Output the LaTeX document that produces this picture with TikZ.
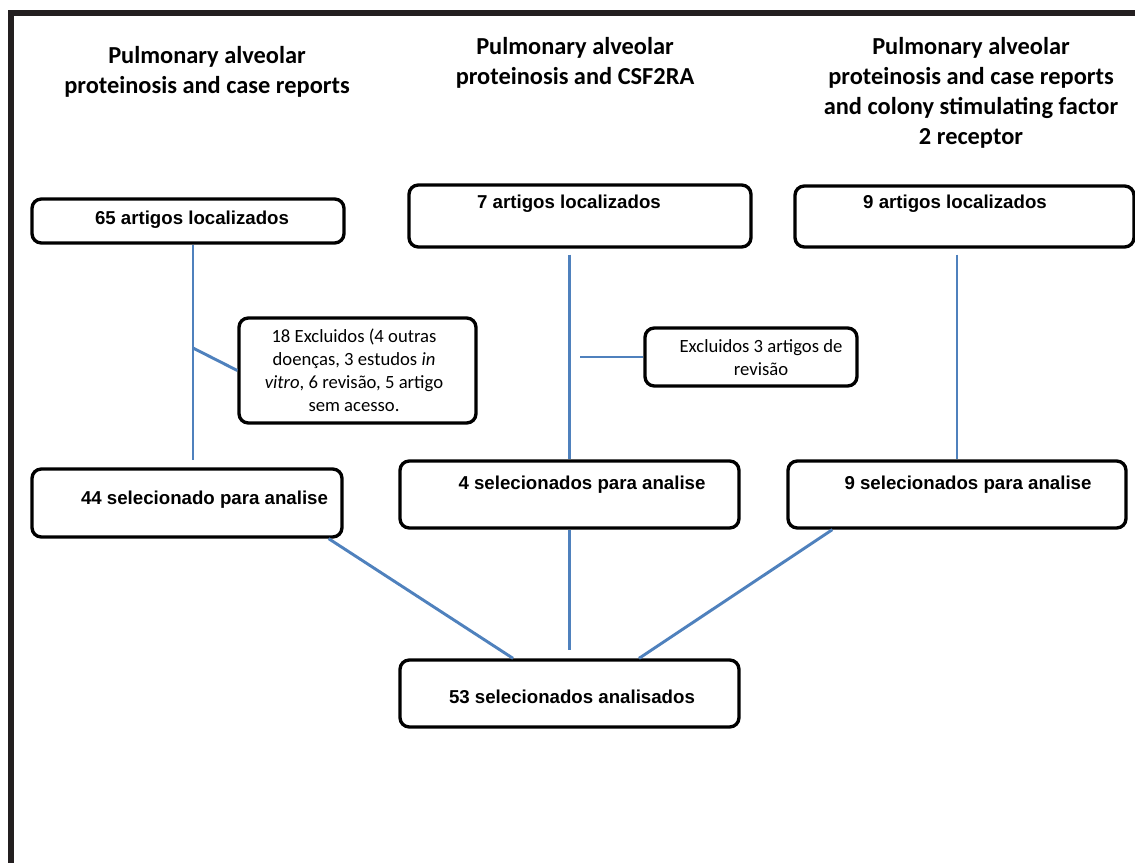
\documentclass[tikz,border=0pt]{standalone}
\usepackage{fontspec}
\setmainfont{Carlito}
\newfontfamily\boxfont{Liberation Sans}
\usetikzlibrary{calc}
\definecolor{linkblue}{HTML}{4F81BD}
\definecolor{frameblack}{HTML}{231F20}
\begin{document}
\begin{tikzpicture}[x=0.75pt,y=-0.75pt,
  box/.style={draw=black, line width=2.5pt, rounded corners=7pt, fill=white, inner sep=0pt},
  boxtext/.style={font=\boxfont\bfseries\fontsize{14}{17}\selectfont, inner sep=0pt, anchor=base},
  title/.style={font=\bfseries\fontsize{18.3}{22.5}\selectfont, align=center, inner sep=0pt, anchor=base},
  note/.style={font=\fontsize{14}{17.25}\selectfont, align=center, inner sep=0pt, anchor=base},
  link/.style={draw=linkblue, line width=2.2pt}]

% page area and frame
\useasboundingbox (0,0) rectangle (1135,863);
\fill[frameblack] (8,10) rectangle (1135,16);
\fill[frameblack] (8,10) rectangle (14,863);

% column titles (positioned by the baseline of their last line)
\node[title] (t1) at (207,94) {Pulmonary alveolar\\proteinosis and case reports};
\node[title] (t2) at (575,85) {Pulmonary alveolar\\proteinosis and CSF2RA};
\node[title] (t3) at (971,145) {Pulmonary alveolar\\proteinosis and case reports\\and colony stimulating factor\\2 receptor};

% boxes
\node[box, minimum width=234pt,    minimum height=33pt]    (A) at (188,221) {};
\node[box, minimum width=256.5pt,  minimum height=46.5pt]  (B) at (580,216) {};
\node[box, minimum width=254.25pt, minimum height=45.75pt] (C) at (964.5,216.5) {};
\node[box, minimum width=232.5pt,  minimum height=51pt]    (D) at (187,503) {};
\node[box, minimum width=254.25pt, minimum height=50.25pt] (E) at (569.5,494.5) {};
\node[box, minimum width=253.5pt,  minimum height=50.25pt] (F) at (957,494.5) {};
\node[box, minimum width=254.25pt, minimum height=50.25pt] (G) at (569.5,693.5) {};
\node[box, minimum width=177.75pt, minimum height=78.75pt] (X1) at (357.5,370.5) {};
\node[box, minimum width=159pt,    minimum height=43.5pt]  (X2) at (751,357) {};

% box texts
\node[boxtext] (A-txt) at (192,224) {65 artigos localizados};
\node[boxtext] (B-txt) at (569,209) {7 artigos localizados};
\node[boxtext] (C-txt) at (955,209) {9 artigos localizados};
\node[boxtext] (D-txt) at (204.5,504) {44 selecionado para analise};
\node[boxtext] (E-txt) at (582,489) {4 selecionados para analise};
\node[boxtext] (F-txt) at (968,489) {9 selecionados para analise};
\node[boxtext] (G-txt) at (572,703) {53 selecionados analisados};
\node[note] (X1-txt) at (354,411) {18 Excluidos (4 outras\\doenças, 3 estudos \textit{in}\\\textit{vitro}, 6 revisão, 5 artigo\\sem acesso.};
\node[note] (X2-txt) at (761,375) {Excluidos 3 artigos de\\revisão};

% connectors
\coordinate (ln1) at (193,0);
\coordinate (j1) at (193,348);
\coordinate (j2) at (580,357);
\draw[link, shorten >=5.25pt] (A.south -| ln1) -- (D.north -| ln1);
\draw[link] (j1) -- (X1.west);
\draw[link, shorten <=4.5pt] (B.south -| E.north) -- (E.north);
\draw[link] (j2) -- (X2.west);
\draw[link, shorten <=4.5pt] (C.south -| F.north) -- (F.north);
\draw[link] ($(D.south east)+(-15,0)$) -- ($(G.north)+(-56.5,0)$);
\draw[link, shorten >=6pt] (E.south) -- (E.south |- G.north);
\draw[link] ($(F.south west)+(46,0)$) -- ($(G.north)+(69.5,0)$);
\end{tikzpicture}
\end{document}
